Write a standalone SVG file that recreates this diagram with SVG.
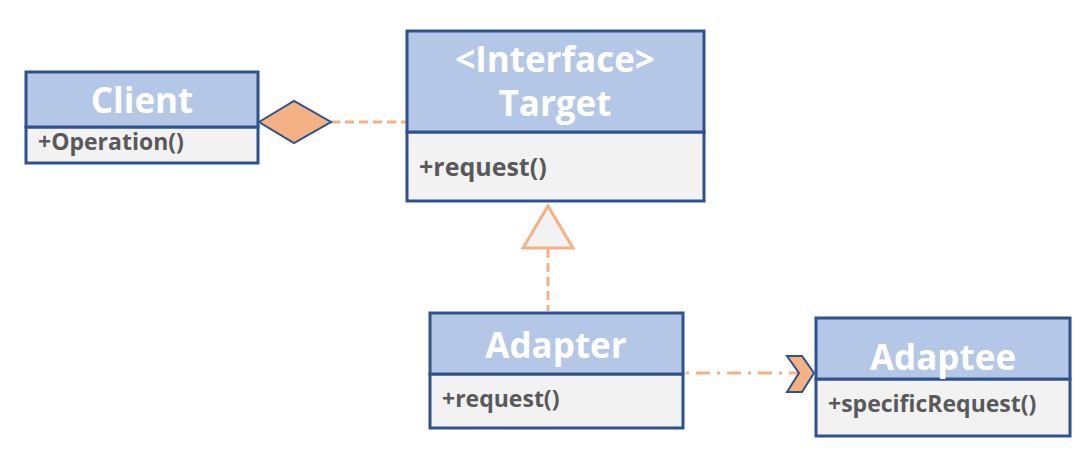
<svg xmlns="http://www.w3.org/2000/svg" width="1086" height="461" viewBox="0 0 1086 461">
<style>
.hdr{fill:#B4C7E7;stroke:#2F528F;stroke-width:3}
.bdy{fill:#F2F2F2;stroke:#2F528F;stroke-width:3}
.ttl{font-family:"Open Sans","Noto Sans",sans-serif;font-weight:bold;fill:#FFFFFF;text-anchor:middle;font-size:35px}
.mth{font-family:"Open Sans","Noto Sans",sans-serif;font-weight:bold;fill:#595959;font-size:23px}
.conn{fill:none;stroke:#F4B183;stroke-width:3}
</style>
<rect width="1086" height="461" fill="#FFFFFF"/>
<g id="connectors">
  <line class="conn" x1="331" y1="122" x2="406" y2="122" stroke-dasharray="9 5"/>
  <line class="conn" x1="548" y1="249" x2="548" y2="311" stroke-dasharray="9 5"/>
  <line class="conn" x1="686" y1="373" x2="800" y2="373" stroke-dasharray="3 7 14 7"/>
  <polygon points="259,122 294,101 331,122 294,143" fill="#F4B183" stroke="#2F528F" stroke-width="2"/>
  <polygon points="548,206 573,248 523,248" fill="#F2F2F2" stroke="#F4B183" stroke-width="3"/>
  <polygon points="787,356 802,356 814,373 802,392 787,392 799,373" fill="#F4B183" stroke="#2F528F" stroke-width="2"/>
</g>
<g id="client">
  <rect class="bdy" x="26" y="127" width="232" height="36"/>
  <rect class="hdr" x="26" y="72" width="232" height="55"/>
  <text class="ttl" x="142" y="113">Client</text>
  <text class="mth" x="38" y="150">+Operation()</text>
</g>
<g id="target">
  <rect class="bdy" x="407" y="132" width="297" height="69"/>
  <rect class="hdr" x="407" y="31" width="297" height="101"/>
  <text class="ttl" x="555" y="72">&lt;Interface&gt;</text>
  <text class="ttl" x="555" y="116">Target</text>
  <text class="mth" x="419" y="176" style="font-size:25px">+request()</text>
</g>
<g id="adapter">
  <rect class="bdy" x="430" y="374" width="253" height="54"/>
  <rect class="hdr" x="430" y="313" width="253" height="61"/>
  <text class="ttl" x="556" y="358">Adapter</text>
  <text class="mth" x="442" y="407">+request()</text>
</g>
<g id="adaptee">
  <rect class="bdy" x="816" y="379" width="254" height="57"/>
  <rect class="hdr" x="816" y="318" width="254" height="61"/>
  <text class="ttl" x="943" y="370">Adaptee</text>
  <text class="mth" x="828" y="412">+specificRequest()</text>
</g>
</svg>
